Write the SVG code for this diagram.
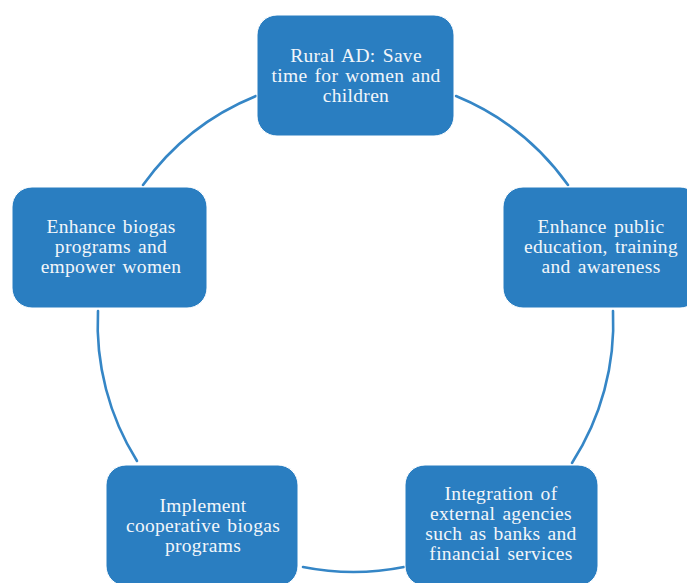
<svg xmlns="http://www.w3.org/2000/svg" width="687" height="583" viewBox="0 0 687 583">
<style>
.node rect{fill:#2A7EC1;stroke:#FFFFFF;stroke-width:1}
.node text{font-family:"Liberation Serif","Times New Roman",serif;font-size:19.5px;letter-spacing:0.3px;word-spacing:2px;fill:#F2F6FA;text-anchor:middle}
.arc{fill:none;stroke:#3586C6;stroke-width:2.6;stroke-linecap:round}
</style>
<rect width="687" height="583" fill="#FFFFFF"/>
<g id="connectors">
<path class="arc" d="M 456 96 A 258 258 0 0 1 568 185"/>
<path class="arc" d="M 613 311 A 258 258 0 0 1 572 463"/>
<path class="arc" d="M 404 567 A 258 258 0 0 1 303 567"/>
<path class="arc" d="M 137 461 A 258 258 0 0 1 98 311"/>
<path class="arc" d="M 143 185 A 258 258 0 0 1 256 96"/>
</g>
<g id="node-top" class="node">
<rect x="257" y="15" width="197" height="121" rx="20"/>
<text x="356" y="62">Rural AD: Save</text>
<text x="356" y="82">time for women and</text>
<text x="356" y="102">children</text>
</g>
<g id="node-right" class="node">
<rect x="503" y="187" width="197" height="121" rx="20"/>
<text x="601" y="233">Enhance public</text>
<text x="601" y="253">education, training</text>
<text x="601" y="273">and awareness</text>
</g>
<g id="node-bottom-right" class="node">
<rect x="405" y="465" width="193" height="121" rx="20"/>
<text x="501" y="500">Integration of</text>
<text x="501" y="520">external agencies</text>
<text x="501" y="540">such as banks and</text>
<text x="501" y="560">financial services</text>
</g>
<g id="node-bottom-left" class="node">
<rect x="106" y="465" width="192" height="121" rx="20"/>
<text x="203" y="512">Implement</text>
<text x="203" y="532">cooperative biogas</text>
<text x="203" y="552">programs</text>
</g>
<g id="node-left" class="node">
<rect x="12" y="187" width="195" height="121" rx="20"/>
<text x="111" y="233">Enhance biogas</text>
<text x="111" y="253">programs and</text>
<text x="111" y="273">empower women</text>
</g>
</svg>
